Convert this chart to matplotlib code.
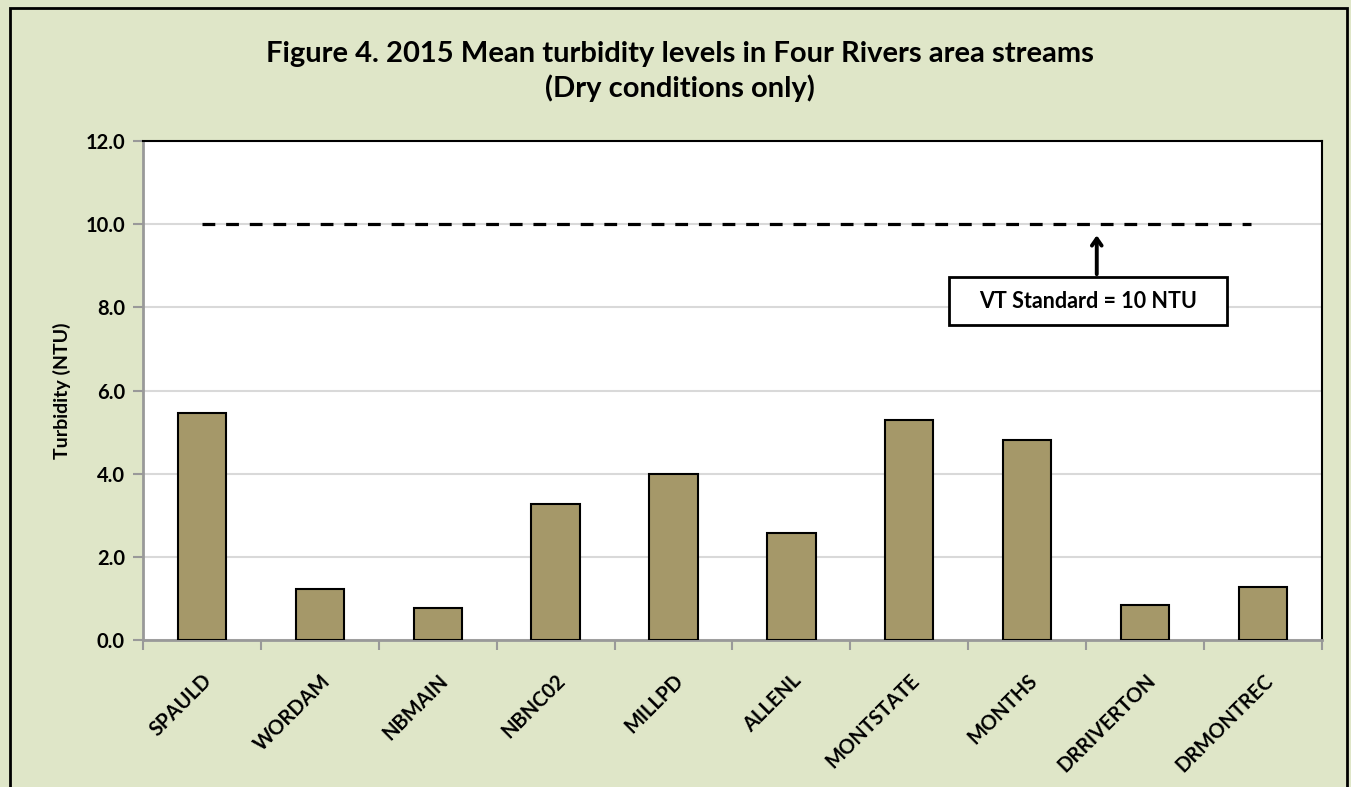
import matplotlib
matplotlib.use("Agg")
import matplotlib.pyplot as plt
from matplotlib.patches import Rectangle

plt.rcParams['font.family'] = ['Lato', 'DejaVu Sans']
plt.rcParams['font.weight'] = 'bold'

sites = ["SPAULD", "WORDAM", "NBMAIN", "NBNC02", "MILLPD", "ALLENL",
         "MONTSTATE", "MONTHS", "DRRIVERTON", "DRMONTREC"]
turbidity = [5.47, 1.22, 0.78, 3.28, 3.99, 2.58, 5.30, 4.81, 0.83, 1.27]
standard = 10
y_ticks = [0, 2, 4, 6, 8, 10, 12]

bg = "#dfe6c8"
fig = plt.figure(figsize=(13.51, 7.87), dpi=100, facecolor=bg)
ax = fig.add_axes([0.1058, 0.1868, 0.8727, 0.634])

x = range(len(sites))
ax.bar(x, turbidity, width=0.41, color="#a59869", edgecolor="black",
       linewidth=1.5, zorder=3)

# VT standard line
ax.plot([0, 8.9], [standard, standard], color="black", lw=2.3,
        dashes=(4, 3.4), zorder=4)
ax.annotate("", xy=(7.59, 9.8), xytext=(7.59, 8.73),
            arrowprops=dict(arrowstyle="->,head_width=0.35,head_length=0.5",
                            lw=2.8, color="black"), zorder=5)
ax.add_patch(Rectangle((6.336, 7.572), 2.358, 1.154, fc="white", ec="black",
                       lw=2, zorder=6))
ax.text(7.515, 8.15, "VT Standard = 10 NTU", ha="center", va="center",
        fontsize=15.5, fontweight="bold", zorder=7)

ax.set_xlim(-0.5, len(sites) - 0.5)
ax.set_ylim(0, 12)
ax.set_yticks(y_ticks)
ax.set_yticklabels([f"{v:.1f}" for v in y_ticks], fontsize=14.5,
                   fontweight="bold")
ax.set_xticks(list(x))
ax.set_xticklabels(sites, rotation=45, ha="right", rotation_mode="anchor",
                   fontsize=14.5, fontweight="bold")
ax.tick_params(axis="x", length=0, pad=22)
ax.set_xticks([i - 0.5 for i in range(len(sites) + 1)], minor=True)
ax.tick_params(axis="x", which="minor", length=7, color="#999999", width=1.5)
ax.tick_params(axis="y", length=7, color="#999999", width=1.5, pad=6)
ax.grid(axis="y", color="#d9d9d9", lw=1.5, zorder=0)
ax.set_ylabel("Turbidity (NTU)", fontsize=14, fontweight="bold", labelpad=10)

for s in ["top", "right"]:
    ax.spines[s].set_color("black")
    ax.spines[s].set_linewidth(1.5)
for s in ["left", "bottom"]:
    ax.spines[s].set_color("#999999")
    ax.spines[s].set_linewidth(2)

fig.text(0.503, 0.909, "Figure 4. 2015 Mean turbidity levels in Four Rivers area streams\n(Dry conditions only)",
         ha="center", va="center", fontsize=21, fontweight="bold",
         linespacing=1.3)

# outer chart border
fig.patches.append(Rectangle((0.0074, -0.02), 0.9896, 1.01, transform=fig.transFigure,
                             fill=False, ec="black", lw=2))

fig.savefig("out.png", dpi=100, facecolor=bg)
